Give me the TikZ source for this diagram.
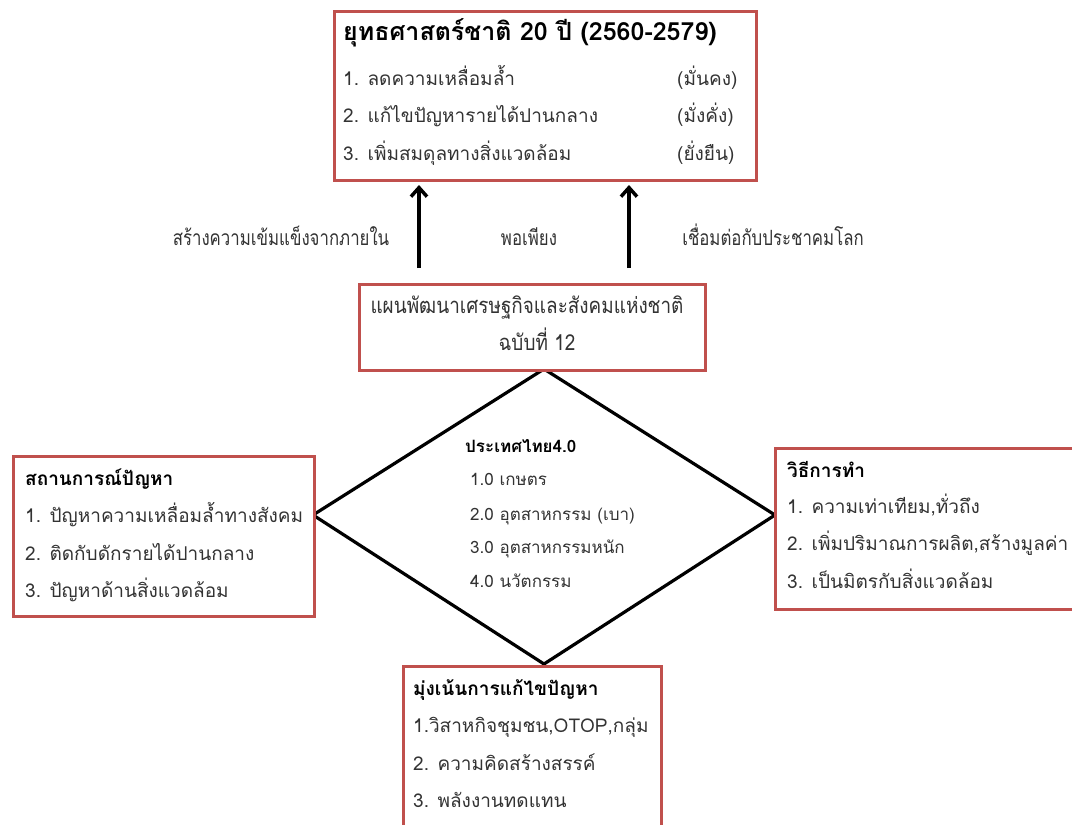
\documentclass[tikz,border=0pt]{standalone}
\usepackage{fontspec}
\setmainfont[Script=Thai]{Loma}
\newfontfamily\narrowthai[Script=Thai,FakeStretch=0.86]{Loma}
\newfontfamily\labelthai[Script=Thai,FakeStretch=0.8]{Loma}
\usetikzlibrary{arrows.meta}
\definecolor{boxred}{HTML}{C0504D}
\definecolor{bodytext}{HTML}{333333}
\tikzset{
  redbox/.style={draw=boxred, line width=3pt, fill=white, inner sep=0pt, anchor=north west},
  ttl/.style={anchor=base west, inner sep=0pt, font=\fontsize{19}{19}\selectfont\bfseries, text=black},
  bigttl/.style={anchor=base west, inner sep=0pt, font=\fontsize{25}{25}\selectfont\bfseries, text=black},
  body/.style={anchor=base west, inner sep=0pt, font=\fontsize{19}{19}\selectfont, text=bodytext},
  dbody/.style={anchor=base west, inner sep=0pt, font=\fontsize{17}{17}\selectfont, text=bodytext},
  dttl/.style={anchor=base west, inner sep=0pt, font=\fontsize{17}{17}\selectfont\bfseries, text=black},
  nar/.style={anchor=base, inner sep=0pt, font=\narrowthai\fontsize{22}{22}\selectfont, text=bodytext},
  lab/.style={anchor=base, inner sep=0pt, font=\labelthai\fontsize{21}{21}\selectfont, text=bodytext},
  diam/.style={draw=black, line width=3.2pt, line join=miter},
  bigarrow/.style={draw=black, line width=3.5pt, -{Straight Barb[length=9pt,width=16pt,line width=3.5pt]}}
}
\begin{document}
\begin{tikzpicture}[x=1pt,y=-1pt]
\useasboundingbox[fill=white] (0,0) rectangle (1072,825);

% diamond
\coordinate (dl) at (313,515);
\coordinate (dt) at (544,369);
\coordinate (dr) at (775,515);
\coordinate (db) at (544,664);
\draw[diam] (dl) -- (dt) -- (dr) -- (db) -- cycle;

% top box
\node[redbox, minimum width=422pt, minimum height=169pt] (topbox) at (333,10) {};
\node[bigttl] (t0) at (343,40) {ยุทธศาสตร์ชาติ 20 ปี (2560-2579)};
\node[body] (t1) at (343,85) {1. ลดความเหลื่อมล้ำ};
\node[body] (t2) at (343,122) {2. แก้ไขปัญหารายได้ปานกลาง};
\node[body] (t3) at (343,160) {3. เพิ่มสมดุลทางสิ่งแวดล้อม};
\node[body] (r1) at (677,85) {(มั่นคง)};
\node[body] (r2) at (677,122) {(มั่งคั่ง)};
\node[body] (r3) at (677,160) {(ยั่งยืน)};

% middle box
\node[redbox, minimum width=346pt, minimum height=86pt] (midbox) at (358,283) {};
\node[nar] (m1) at (527,313) {แผนพัฒนาเศรษฐกิจและสังคมแห่งชาติ};
\node[nar] (m2) at (537,350) {ฉบับที่ 12};

% arrows
\coordinate (a1s) at (419,268);
\coordinate (a1e) at (419,185);
\coordinate (a2s) at (629,268);
\coordinate (a2e) at (629,185);
\draw[bigarrow] (a1s) -- (a1e);
\draw[bigarrow] (a2s) -- (a2e);
\node[lab] (l1) at (281,245) {สร้างความเข้มแข็งจากภายใน};
\node[lab] (l2) at (529,245) {พอเพียง};
\node[lab] (l3) at (773,245) {เชื่อมต่อกับประชาคมโลก};

% left box
\node[redbox, minimum width=301pt, minimum height=160pt] (leftbox) at (12,455) {};
\node[ttl] (lt) at (25,485) {สถานการณ์ปัญหา};
\node[body] (lb1) at (25,522) {1. ปัญหาความเหลื่อมล้ำทางสังคม};
\node[body] (lb2) at (25,560) {2. ติดกับดักรายได้ปานกลาง};
\node[body] (lb3) at (25,597) {3. ปัญหาด้านสิ่งแวดล้อม};

% right box
\node[redbox, minimum width=310pt, minimum height=161pt] (rightbox) at (774,447) {};
\node[ttl] (rt) at (787,477) {วิธีการทำ};
\node[body] (rb1) at (787,513) {1. ความเท่าเทียม,ทั่วถึง};
\node[body] (rb2) at (787,550) {2. เพิ่มปริมาณการผลิต,สร้างมูลค่า};
\node[body] (rb3) at (787,588) {3. เป็นมิตรกับสิ่งแวดล้อม};

% bottom box
\node[redbox, minimum width=258pt, minimum height=175pt] (botbox) at (402,665) {};
\node[ttl] (bt) at (413,695) {มุ่งเน้นการแก้ไขปัญหา};
\node[body] (bb1) at (413,732) {1.วิสาหกิจชุมชน,OTOP,กลุ่ม};
\node[body] (bb2) at (413,770) {2. ความคิดสร้างสรรค์};
\node[body] (bb3) at (413,807) {3. พลังงานทดแทน};

% diamond text
\node[dttl] (dt0) at (465,452) {ประเทศไทย4.0};
\node[dbody] (d1) at (470,485) {1.0 เกษตร};
\node[dbody] (d2) at (470,520) {2.0 อุตสาหกรรม (เบา)};
\node[dbody] (d3) at (470,553) {3.0 อุตสาหกรรมหนัก};
\node[dbody] (d4) at (470,587) {4.0 นวัตกรรม};
\end{tikzpicture}
\end{document}
